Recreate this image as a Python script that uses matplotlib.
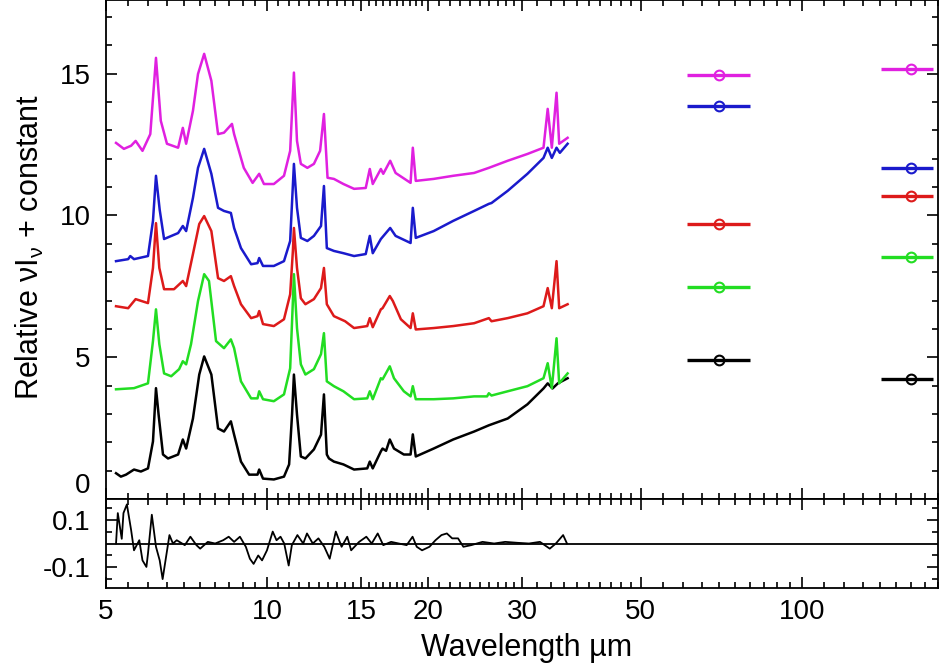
import numpy as np
import matplotlib
matplotlib.use("Agg")
import matplotlib.pyplot as plt
from matplotlib.ticker import FixedLocator, NullFormatter

plt.rcParams['font.family'] = ['Liberation Sans', 'DejaVu Sans']
plt.rcParams['mathtext.fontset'] = 'custom'
plt.rcParams['mathtext.rm'] = 'Liberation Sans'
plt.rcParams['axes.unicode_minus'] = False

# IRS spectra (wavelength in micron, relative nu*I_nu + offset)
wl_black = [5.22, 5.33, 5.45, 5.64, 5.81, 5.99, 6.12, 6.20, 6.27, 6.39, 6.53, 6.82, 6.96, 7.06, 7.27,
            7.47, 7.63, 7.87, 8.10, 8.31, 8.56, 8.68, 8.94, 9.26, 9.60, 9.67, 9.83, 10.3, 10.76, 11.0,
            11.14, 11.23, 11.38, 11.57, 11.8, 12.24, 12.62, 12.78, 12.94, 13.06, 13.34, 13.9, 14.55, 15.4,
            15.57, 15.77, 16.33, 16.45, 16.7, 16.97, 17.28, 18.03, 18.56, 18.74, 18.98, 20.5, 22.3, 24.4,
            26.0, 28.2, 30.7, 32.9, 33.5, 34.2, 35.0, 36.5]
fl_black = [0.91, 0.79, 0.86, 1.04, 0.97, 1.08, 2.03, 3.91, 2.98, 1.57, 1.43, 1.57, 2.10, 1.78, 2.84,
            4.39, 5.03, 4.39, 2.49, 2.38, 2.74, 2.27, 1.32, 0.86, 0.86, 1.04, 0.72, 0.69, 0.79, 1.22,
            2.98, 4.39, 2.98, 1.50, 1.43, 1.75, 2.27, 3.69, 1.57, 1.43, 1.32, 1.22, 1.04, 1.08,
            1.32, 1.08, 1.68, 1.78, 1.70, 2.10, 1.78, 1.57, 1.57, 2.28, 1.50, 1.78, 2.10, 2.38,
            2.60, 2.84, 3.34, 3.90, 4.08, 3.90, 4.08, 4.26]

wl_green = [5.22, 5.64, 5.99, 6.12, 6.20, 6.29, 6.42, 6.62, 6.85, 6.96, 7.06, 7.21, 7.43, 7.63, 7.79,
            8.03, 8.31, 8.56, 8.68, 8.94, 9.34, 9.60, 9.67, 9.83, 10.3, 10.76, 11.05, 11.18, 11.23, 11.38,
            11.57, 11.8, 12.24, 12.62, 12.78, 12.94, 13.34, 13.9, 14.55, 15.4, 15.57, 15.77, 16.33, 16.45,
            16.97, 17.28, 18.03, 18.56, 18.74, 18.98, 20.5, 22.3, 24.4, 25.8, 26.0, 26.3, 28.2, 30.7,
            32.9, 33.5, 34.1, 34.8, 35.2, 36.5]
fl_green = [3.87, 3.91, 4.08, 5.57, 6.69, 5.46, 4.43, 4.33, 4.58, 4.86, 4.75, 5.46, 6.98, 7.93, 7.69,
            5.57, 5.32, 5.63, 5.32, 4.15, 3.55, 3.55, 3.80, 3.52, 3.45, 3.69, 4.61, 6.98, 7.93, 6.03,
            4.75, 4.39, 4.58, 5.11, 5.85, 4.15, 3.98, 3.80, 3.52, 3.55, 3.80, 3.52, 4.26, 4.22,
            4.68, 4.26, 3.80, 3.62, 3.98, 3.52, 3.52, 3.55, 3.62, 3.62, 3.73, 3.65, 3.80, 3.98,
            4.26, 4.79, 3.91, 5.67, 4.08, 4.43]

wl_red = [5.22, 5.50, 5.68, 5.99, 6.12, 6.20, 6.29, 6.42, 6.70, 6.96, 7.06, 7.27, 7.47, 7.63, 7.87,
          8.10, 8.31, 8.56, 8.68, 8.94, 9.34, 9.60, 9.67, 9.83, 10.3, 10.76, 11.05, 11.18, 11.23, 11.38,
          11.57, 11.8, 12.24, 12.62, 12.78, 12.94, 13.34, 14.0, 14.55, 15.4, 15.57, 15.77, 16.33, 16.45,
          16.97, 17.2, 17.8, 18.56, 18.74, 18.98, 20.5, 22.3, 24.4, 26.0, 26.3, 28.2, 30.7, 32.9,
          33.5, 34.1, 34.8, 35.2, 36.5]
fl_red = [6.80, 6.73, 7.05, 6.91, 8.15, 9.73, 8.15, 7.40, 7.40, 7.69, 7.51, 8.64, 9.70, 9.98, 9.45,
          7.79, 7.69, 7.86, 7.51, 6.87, 6.38, 6.45, 6.63, 6.17, 6.10, 6.34, 7.22, 8.75, 9.56, 8.15,
          7.08, 6.87, 7.05, 7.44, 8.15, 6.87, 6.45, 6.27, 6.03, 6.10, 6.38, 6.06, 6.69, 6.73,
          7.16, 6.98, 6.34, 6.03, 6.55, 5.98, 6.03, 6.10, 6.20, 6.38, 6.27, 6.38, 6.55, 6.80,
          7.44, 6.73, 8.39, 6.73, 6.87]

wl_blue = [5.22, 5.50, 5.55, 5.64, 5.99, 6.12, 6.20, 6.30, 6.42, 6.82, 6.96, 7.06, 7.27, 7.43, 7.63,
           7.87, 8.10, 8.31, 8.56, 8.68, 8.94, 9.34, 9.60, 9.67, 9.83, 10.3, 10.76, 11.05, 11.23, 11.38,
           11.57, 11.9, 12.24, 12.62, 12.78, 12.94, 13.34, 13.9, 14.55, 15.3, 15.57, 15.77, 16.33, 17.0,
           17.4, 18.56, 18.74, 18.98, 20.5, 22.3, 24.4, 26.0, 26.3, 28.2, 30.7, 32.9, 33.5, 34.1,
           34.8, 35.3, 36.5]
fl_blue = [8.39, 8.46, 8.57, 8.46, 8.57, 9.81, 11.40, 10.20, 9.17, 9.38, 9.63, 9.45, 10.62, 11.68, 12.35,
           11.47, 10.27, 10.16, 10.09, 9.56, 8.85, 8.28, 8.32, 8.50, 8.22, 8.22, 8.39, 9.10, 11.82, 10.27,
           9.21, 9.10, 9.28, 9.63, 11.04, 8.85, 8.75, 8.67, 8.57, 8.64, 9.28, 8.67, 9.17, 9.56,
           9.28, 9.03, 10.27, 9.21, 9.45, 9.81, 10.16, 10.41, 10.44, 10.87, 11.47, 12.03, 12.39, 12.03,
           12.39, 12.21, 12.53]

wl_magenta = [5.22, 5.40, 5.57, 5.68, 5.85, 6.05, 6.20, 6.33, 6.50, 6.82, 6.96, 7.06, 7.27, 7.43, 7.63,
              7.87, 8.10, 8.31, 8.60, 8.68, 9.05, 9.40, 9.67, 9.87, 10.3, 10.76, 11.05, 11.23, 11.38, 11.57,
              11.9, 12.24, 12.57, 12.78, 12.98, 13.34, 13.9, 14.55, 15.3, 15.57, 15.77, 16.33, 16.5, 17.0,
              17.4, 18.56, 18.74, 18.98, 20.5, 22.3, 24.4, 26.0, 28.2, 30.7, 32.9, 33.5, 34.1, 34.8,
              35.2, 36.5]
fl_magenta = [12.56, 12.35, 12.46, 12.63, 12.28, 12.87, 15.56, 13.34, 12.53, 12.39, 13.09, 12.53, 13.69, 14.99, 15.70,
              14.75, 12.87, 12.92, 13.23, 12.87, 11.68, 11.15, 11.47, 11.11, 11.11, 11.40, 12.28, 15.04, 12.63, 11.82,
              11.68, 11.82, 12.28, 13.58, 11.33, 11.29, 11.11, 10.94, 10.97, 11.64, 11.11, 11.64, 11.47, 11.93,
              11.50, 11.15, 12.39, 11.22, 11.29, 11.40, 11.50, 11.68, 11.93, 12.17, 12.39, 13.76, 12.39, 14.33,
              12.53, 12.74]

# PACS photometry: band centres, band edges and fluxes per source
phot_wl = [70.0, 160.0]
phot_lo = [61.0, 140.5]
phot_hi = [80.0, 176.0]
phot_black = [4.89, 4.22]
phot_green = [7.48, 8.53]
phot_red = [9.70, 10.69]
phot_blue = [13.87, 11.68]
phot_magenta = [14.96, 15.17]

# fit residual
wl_res = [5.22, 5.26, 5.35, 5.39, 5.47, 5.57, 5.64, 5.77, 5.85, 5.95, 5.99, 6.09, 6.20, 6.30, 6.38,
          6.46, 6.57, 6.67, 6.78, 7.02, 7.19, 7.38, 7.50, 7.75, 8.00, 8.28, 8.48, 8.68, 8.90, 9.13,
          9.29, 9.44, 9.63, 9.79, 10.0, 10.25, 10.42, 10.6, 10.77, 10.98, 11.13, 11.4, 11.69, 11.88,
          12.18, 12.48, 12.8, 13.1, 13.45, 13.79, 14.13, 14.37, 14.87, 15.34, 15.7, 16.11, 16.5, 17.07,
          17.64, 18.25, 18.72, 19.06, 19.5, 20.13, 20.66, 21.2, 21.7, 22.2, 22.77, 23.3, 24.1, 25.3,
          26.6, 27.9, 29.4, 30.9, 32.4, 33.8, 34.7, 35.8, 36.4]
res = [0.0, 0.13, 0.02, 0.13, 0.167, 0.058, -0.029, 0.014, -0.072, -0.10, -0.043, 0.123, -0.014, -0.072, -0.152,
       -0.072, 0.036, 0.0, 0.014, -0.007, 0.029, -0.007, -0.022, 0.007, 0.0, 0.014, 0.029, 0.007, 0.029, -0.014,
       -0.065, -0.087, -0.051, -0.072, -0.029, 0.051, 0.014, 0.029, 0.0, -0.094, -0.007, 0.036, 0.0, 0.043,
       0.0, 0.022, -0.014, -0.065, 0.051, -0.014, 0.029, -0.029, 0.007, 0.029, 0.0, 0.043, -0.007, 0.007,
       0.0, -0.007, 0.029, -0.014, -0.029, -0.014, 0.014, 0.036, 0.043, 0.022, 0.022, -0.014, -0.007, 0.007,
       0.0, 0.007, 0.003, 0.0, 0.007, -0.022, 0.0, 0.036, 0.0]

major_x = [5, 10, 15, 20, 30, 50, 100]
minor_x = (list(np.arange(5, 20.01, 0.5)) + list(range(21, 30)) + list(range(32, 50, 2))
           + list(range(55, 100, 5)) + list(range(110, 190, 10)))

series = [
    (wl_black, fl_black, phot_black, 'black'),
    (wl_green, fl_green, phot_green, '#22dd22'),
    (wl_red, fl_red, phot_red, '#dd1a1a'),
    (wl_blue, fl_blue, phot_blue, '#1a1acc'),
    (wl_magenta, fl_magenta, phot_magenta, '#e020e0'),
]

fig = plt.figure(figsize=(9.4, 6.71), dpi=100)
ax = fig.add_axes([0.1128, 0.2563, 0.8852, 0.7437])
axr = fig.add_axes([0.1128, 0.1237, 0.8852, 0.1326], sharex=ax)

xerr = [np.subtract(phot_wl, phot_lo), np.subtract(phot_hi, phot_wl)]
for wl, fl, ph, c in series:
    ax.plot(wl, fl, color=c, lw=1.8, solid_joinstyle='round')
    ax.errorbar(phot_wl, ph, xerr=xerr, fmt='o', color=c, mfc='none', mec=c,
                ms=7, mew=1.5, elinewidth=2.4, capsize=0)

axr.plot(wl_res, res, color='black', lw=1.3, solid_joinstyle='round')
axr.axhline(0, color='black', lw=1.3)

ax.set_xscale('log')
ax.set_xlim(5, 180)
ax.set_ylim(0, 17.6)
axr.set_ylim(-0.19, 0.19)

for a in (ax, axr):
    a.xaxis.set_major_locator(FixedLocator(major_x))
    a.xaxis.set_minor_locator(FixedLocator(minor_x))
    a.xaxis.set_minor_formatter(NullFormatter())
    a.tick_params(which='both', direction='in', top=True, right=True, labelsize=20, width=1.2)
    a.tick_params(which='major', length=8)
    a.tick_params(which='minor', length=4)
    a.tick_params(axis='y', pad=11)
    for s in a.spines.values():
        s.set_linewidth(1.3)

ax.tick_params(axis='x', labelbottom=False)
ax.set_yticks([0, 5, 10, 15])
ax.set_yticks(np.arange(0, 17.6, 1), minor=True)
axr.set_xticklabels([str(v) for v in major_x])
axr.set_yticks([-0.1, 0.1])
axr.set_yticklabels(['-0.1', '0.1'])
axr.set_yticks([-0.15, -0.05, 0.05, 0.15], minor=True)
axr.tick_params(axis='x', pad=8)

# lift the "0" label so it sits above the residual panel
fig.canvas.draw()
zero_lbl = ax.yaxis.get_major_ticks()[0].label1
zero_lbl.set_verticalalignment('bottom')

fig.text(0.032, 0.632, r'Relative $\mathregular{\nu I_\nu}$ + constant', rotation=90,
         ha='center', va='center', fontsize=22)
fig.text(0.56, 0.034, 'Wavelength µm', ha='center', va='center', fontsize=22)

fig.savefig('out.png', dpi=100)
